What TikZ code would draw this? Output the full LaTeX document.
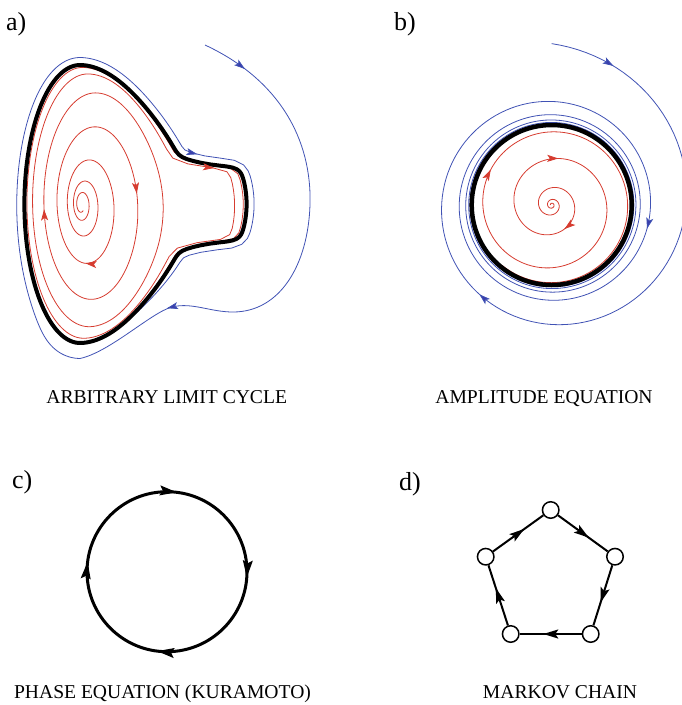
\documentclass[tikz,border=0pt]{standalone}
\usepackage{fontspec}
\setmainfont{Liberation Serif}
\usetikzlibrary{arrows.meta,decorations.markings}
\definecolor{cred}{RGB}{214,60,48}
\definecolor{cblue}{RGB}{64,82,180}
\definecolor{cbtip}{RGB}{58,62,172}
\begin{document}
\begin{tikzpicture}[x=1pt,y=-1pt,
 declare function={
  ph(\p)=atan2(sin(\p),cos(\p));
  hs(\p)=(cos(\p)>0);
  bmp(\p)=1/(1+(min(abs(ph(\p)),40)/18.7)^12);
  nz(\p)=(min(abs(ph(\p)),40)-20.5)/4;
  nk(\p)=1/(1+(nz(\p)*nz(\p))^2);
  SX(\p,\q,\m,\n)=80+\q*(22.5+69.5*cos(\p)+\m*(hs(\p)*(-9+4.5*cos(\p)+13.5*cos(2*\p)+8.6*cos(3*\p)+25*cos(\p)*(sin(\p)*sin(\p))^2)+(1-hs(\p))*(-22.5-13.9*cos(\p)))+\n*57*bmp(\p));
  SY(\p,\q,\n)=204+\q*sin(\p)*(139-\n*15*nk(\p));
  ea(\p)=exp(0.00384*(\p-1080));
  rr(\p)=sqrt(ea(\p)/(ea(\p)+1.601));
  sst(\q)=min(max((\q-0.85)/0.1,0),1);
  wbf(\q)=sst(\q)*sst(\q)*(3-2*sst(\q));
  RX(\p)=SX(\p,rr(\p),rr(\p)^6,wbf(rr(\p)));
  RY(\p)=SY(\p,rr(\p),wbf(rr(\p)));
  LX(\p)=SX(\p,1,1,1);
  LY(\p)=SY(\p,1,1);
  ldx(\p)=LX(\p+0.5)-LX(\p-0.5);
  ldy(\p)=LY(\p+0.5)-LY(\p-0.5);
  lln(\p)=sqrt(ldx(\p)*ldx(\p)+ldy(\p)*ldy(\p));
  qq(\p)=((\p-90)/35)*((\p-90)/35);
  sfd(\p)=min(max((\p-370)/55,0),1);
  dd(\p)=(7.5+8/(1+qq(\p)*qq(\p)))*(1-sfd(\p)*sfd(\p)*(3-2*sfd(\p)));
  BX(\p)=LX(\p)+dd(\p)*ldy(\p)/lln(\p);
  BY(\p)=LY(\p)-dd(\p)*ldx(\p)/lln(\p);
  BR(\p)=80*sqrt(exp(0.006458*\p)/(exp(0.006458*\p)+11.42));
  BB(\p)=80/sqrt(1-0.645*exp(-0.001745*\p));
 },
 thin red/.style={cred, line width=0.8pt},
 thin blue/.style={cblue, line width=0.8pt},
 redtip/.style={cred, line width=0.8pt, -{Stealth[length=11pt,width=7pt,inset=2.5pt]}},
 bluetip/.style={cblue, line width=0.8pt, -{Stealth[length=11pt,width=7pt,inset=2.5pt,fill=cbtip]}},
 blacktip/.style={black, line width=1pt, -{Stealth[length=17pt,width=10pt,inset=3pt]}},
 panellabel/.style={font=\fontsize{26}{30}\selectfont, anchor=base west, inner sep=0pt},
 caption/.style={font=\fontsize{19.6}{22}\selectfont, anchor=base, inner sep=0pt},
 mnode/.style={circle, draw, line width=1.5pt, fill=white, minimum size=16.5pt, inner sep=0pt},
 medge/.style={line width=2pt, postaction={decorate},
   decoration={markings, mark=at position 0.62 with {\arrow{Stealth[length=15pt,width=9pt,inset=3pt]}}}}
]
\useasboundingbox (0,0) rectangle (682,705);

% ---------------- panel a ----------------
\draw[thin red] plot[domain=-300:2200, samples=900, variable=\t] ({RX(\t)},{RY(\t)});
\draw[thin blue] (205,45) .. controls (280,80) and (312,140) .. (310,205)
   .. controls (308,265) and (280,312) .. (233,312)
   .. controls (210,312) and (192,302) .. (172,307)
   .. controls (152,312) and (110,352) .. (80,358.5);
\draw[thin blue] plot[domain=90:425, samples=200, variable=\t] ({BX(\t)},{BY(\t)});
\draw[black, line width=4pt, line join=round] plot[domain=-180:180, samples=400, variable=\t] ({LX(\t)},{LY(\t)}) -- cycle;

\draw[redtip] ({RX(1256)},{RY(1256)}) -- ({RX(1257)},{RY(1257)});
\draw[redtip] ({RX(1072)},{RY(1072)}) -- ({RX(1073)},{RY(1073)});
\draw[redtip] ({RX(817)},{RY(817)}) -- ({RX(818)},{RY(818)});
\draw[redtip] ({RX(1782)},{RY(1782)}) -- ({RX(1783)},{RY(1783)});
\draw[bluetip] (244,68.24) -- (245,69);
\draw[bluetip] (168,308) -- (167,308.25);
\draw[bluetip] ({BX(339.5)},{BY(339.5)}) -- ({BX(340)},{BY(340)});

% ---------------- panel b ----------------
\draw[thin red] plot[domain=-900:850, samples=700, variable=\t] ({551.7+BR(\t)*cos(\t)},{205+BR(\t)*sin(\t)});
\draw[thin blue] plot[domain=-90:1800, samples=600, variable=\t] ({551.7+BB(\t)*cos(\t)},{205+BB(\t)*sin(\t)});
\draw[black, line width=4.5pt] (551.7,205) circle[radius=80pt];

\foreach \a in {62,278,570}
  \draw[redtip] ({551.7+BR(\a-1)*cos(\a-1)},{205+BR(\a-1)*sin(\a-1)}) -- ({551.7+BR(\a)*cos(\a)},{205+BR(\a)*sin(\a)});
\foreach \a in {-66,129,374}
  \draw[bluetip] ({551.7+BB(\a-1)*cos(\a-1)},{205+BB(\a-1)*sin(\a-1)}) -- ({551.7+BB(\a)*cos(\a)},{205+BB(\a)*sin(\a)});

% ---------------- panel c ----------------
\draw[black, line width=3pt] (167,571.7) circle[radius=80pt];
\foreach \a in {4,97,187,277}
  \draw[blacktip] ({167+80*cos(\a-1)},{571.7+80*sin(\a-1)}) -- ({167+80*cos(\a)},{571.7+80*sin(\a)});

% ---------------- panel d ----------------
\node[mnode] (d1) at (550.7,510) {};
\node[mnode] (d2) at (615,556.7) {};
\node[mnode] (d3) at (590.7,634) {};
\node[mnode] (d4) at (510.7,634) {};
\node[mnode] (d5) at (485.7,556.7) {};
\draw[medge] (d5) -- (d1);
\draw[medge] (d1) -- (d2);
\draw[medge] (d2) -- (d3);
\draw[medge] (d3) -- (d4);
\draw[medge] (d4) -- (d5);

% ---------------- labels ----------------
\node[panellabel] (la) at (6,30) {a)};
\node[panellabel] (lb) at (394,30) {b)};
\node[panellabel] (lc) at (12,488.5) {c)};
\node[panellabel] (ld) at (399,490.5) {d)};
\node[caption] (ca) at (166.7,403.3) {ARBITRARY LIMIT CYCLE};
\node[caption] (cb) at (544,403.3) {AMPLITUDE EQUATION};
\node[caption] (cc) at (162.5,698) {PHASE EQUATION (KURAMOTO)};
\node[caption] (cd) at (560,698) {MARKOV CHAIN};
\end{tikzpicture}
\end{document}
